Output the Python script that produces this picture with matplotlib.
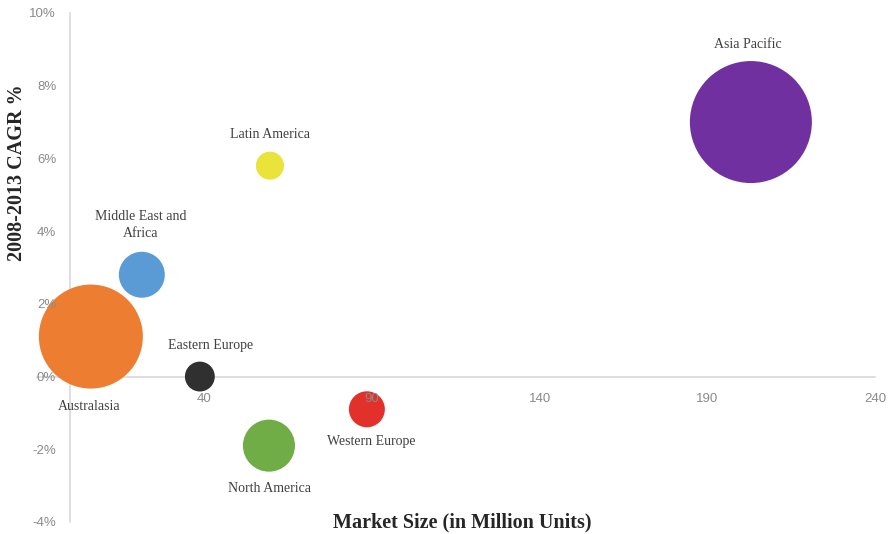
import matplotlib
matplotlib.use("Agg")
import matplotlib.pyplot as plt
from matplotlib.ticker import FuncFormatter

# Regional market data
regions = ["Asia Pacific", "Latin America", "Middle East and\nAfrica", "Australasia",
           "Eastern Europe", "North America", "Western Europe"]
market_size = [203, 59.6, 21.4, 6.2, 38.7, 59.3, 88.5]          # million units
cagr = [7.0, 5.8, 2.8, 1.1, 0.0, -1.9, -0.9]                      # 2008-2013 CAGR %
bubble_value = [100, 5.3, 14.2, 72.7, 6.0, 18.2, 8.7]            # relative bubble size
colors = ["#7030A0", "#EAE43A", "#5B9BD5", "#ED7D31", "#303030", "#70AD47", "#E2302A"]

x_ticks = [40, 90, 140, 190, 240]
y_ticks = [-4, -2, 0, 2, 4, 6, 8, 10]

W, H, DPI = 891, 534, 100
fig = plt.figure(figsize=(W / DPI, H / DPI), dpi=DPI)
ax = fig.add_axes([0.041, 0.0225, 0.941, 0.9532])
ax.set_xlim(-10, 240)
ax.set_ylim(-4, 10)

# Bubble area proportional to value; the largest bubble has a radius of 61 px
max_r_pt = 61 * 72 / DPI
sizes = [(2 * max_r_pt) ** 2 * v / max(bubble_value) for v in bubble_value]
ax.scatter(market_size, cagr, s=sizes, c=colors, edgecolors="none", zorder=2)

# Spines crossing at the origin, drawn beneath the bubbles
for side in ("top", "right"):
    ax.spines[side].set_visible(False)
ax.spines["left"].set_position(("data", 0))
ax.spines["bottom"].set_position(("data", 0))
for side in ("left", "bottom"):
    ax.spines[side].set_color("#D9D9D9")
    ax.spines[side].set_linewidth(1.2)
    ax.spines[side].set_zorder(1)

# Tick labels sit on top of the bubbles
ax.xaxis.set_zorder(3)
ax.yaxis.set_zorder(3)
ax.set_xticks(x_ticks)
ax.set_yticks(y_ticks)
ax.yaxis.set_major_formatter(FuncFormatter(lambda v, _: f"{v:.0f}%"))
ax.tick_params(axis="both", length=0, labelcolor="#8A8A8A", labelsize=9.5)
ax.tick_params(axis="x", pad=12)
ax.tick_params(axis="y", pad=10)
for lbl in ax.get_xticklabels() + ax.get_yticklabels():
    lbl.set_family("Liberation Sans")

# Region labels
label_font = dict(family="Liberation Serif", fontsize=10, color="#404040",
                  ha="center", va="center", zorder=3)
label_pos = {
    "Asia Pacific": (748, 44),
    "Latin America": (270, 134),
    "Middle East and\nAfrica": (141, 225),
    "Australasia": (89, 407),
    "Eastern Europe": (211, 345),
    "North America": (270, 489),
    "Western Europe": (371, 441),
}
for name in regions:
    px, py = label_pos[name]
    fig.text(px / W, 1 - py / H, name, linespacing=1.35, **label_font)

fig.text(462 / W, 1 - 522 / H, "Market Size (in Million Units)", family="Liberation Serif",
         fontsize=14.5, fontweight="bold", color="#262626", ha="center", va="center")
fig.text(17 / W, 1 - 173 / H, "2008-2013 CAGR %", family="Liberation Serif",
         fontsize=14.5, fontweight="bold", color="#262626", ha="center", va="center",
         rotation=90)

fig.savefig("out.png", dpi=DPI)
